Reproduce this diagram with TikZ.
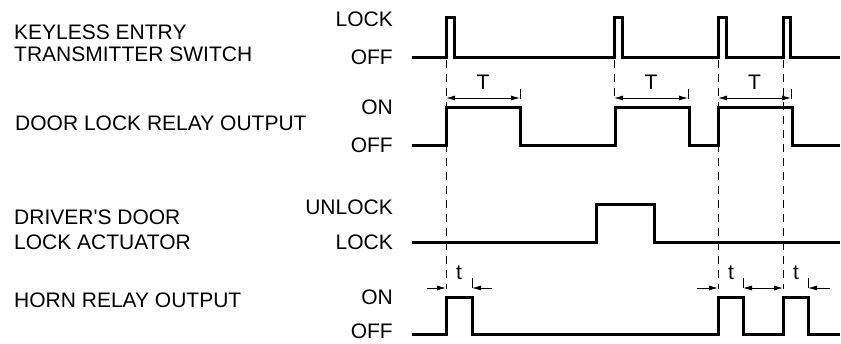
\documentclass[tikz,border=0pt]{standalone}
\usepackage{fontspec}
\setmainfont{Liberation Sans}
\usetikzlibrary{arrows.meta}
\tikzset{
  wave/.style={line width=3pt},
  guide/.style={line width=0.9pt,dash pattern=on 8pt off 6pt},
  span/.style={line width=0.9pt,{Latex[length=9pt,width=5pt]}-{Latex[length=9pt,width=5pt]}},
  halfspan/.style={line width=0.9pt,-{Latex[length=9pt,width=5pt]}},
  txt/.style={font=\fontsize{21}{22}\selectfont,inner sep=0pt},
  lbl/.style={txt,align=left,anchor=west},
  lvl/.style={txt,anchor=east}
}
\begin{document}
\begin{tikzpicture}[x=1pt,y=-1pt]
	    \useasboundingbox (0,0) rectangle (841,343);
	    % signal names
	    \node[lbl] (keyless) at (14,43) {KEYLESS ENTRY\\TRANSMITTER SWITCH};
	    \node[lbl] (relay) at (15,123) {DOOR LOCK RELAY OUTPUT};
	    \node[lbl] (actuator) at (14,230) {DRIVER\textquotesingle S DOOR\\[3pt]LOCK ACTUATOR};
	    \node[lbl] (horn) at (14,300) {HORN RELAY OUTPUT};
	    % levels
	    \node[lvl] (klock) at (393,19) {LOCK};
	    \node[lvl] (koff) at (393,57) {OFF};
	    \node[lvl] (ron) at (393,107) {ON};
	    \node[lvl] (roff) at (393,145) {OFF};
	    \node[lvl] (aunlock) at (393,207) {UNLOCK};
	    \node[lvl] (alock) at (393,242) {LOCK};
	    \node[lvl] (hon) at (393,297) {ON};
	    \node[lvl] (hoff) at (393,331) {OFF};
	    % waveforms
	    \draw[wave](412,57)--(446,57)--(446,17)--(454,17)--(454,57)--(614,57)--(614,17)--(622,17)--(622,57)
	        --(718,57)--(718,17)--(726,17)--(726,57)--(783,57)--(783,17)--(790,17)--(790,57)--(840,57);
	    \draw[wave](412,145)--(446,145)--(446,107)--(520,107)--(520,145)--(615,145)--(615,107)--(689,107)--(689,145)
	        --(718,145)--(718,107)--(792,107)--(792,145)--(840,145);
	    \draw[wave](412,242)--(596,242)--(596,204)--(654,204)--(654,242)--(840,242);
	    \draw[wave](412,334)--(446,334)--(446,297)--(472,297)--(472,334)--(718,334)--(718,297)--(743,297)--(743,334)
	        --(783,334)--(783,297)--(808,297)--(808,334)--(840,334);
	    % guides
	    \draw[guide](446,60)--(446,289);
	    \draw[guide](614,60)--(614,100);
	    \draw[guide](718,60)--(718,289);
	    \draw[guide](783,60)--(783,289);
	    \draw[line width=0.9pt](520,89)--(520,99);
	    \draw[line width=0.9pt](688,89)--(688,99);
	    \draw[line width=0.9pt](791,89)--(791,99);
	    \draw[line width=0.9pt](472,278)--(472,288);
	    \draw[line width=0.9pt](743,278)--(743,288);
	    \draw[line width=0.9pt](808,278)--(808,288);
	    % T spans
	    \draw[span](446,98)--(520,98)node[txt,midway,above=8pt]{T};
	    \draw[span](614,98)--(688,98)node[txt,midway,above=8pt]{T};
	    \draw[span](718,98)--(791,98)node[txt,midway,above=8pt]{T};
	    % t spans
	    \draw[halfspan](427,288)--(446,288);
	    \draw[halfspan](492,288)--(472,288);
	    \node[txt] (t1) at (459,273) {t};
	    \draw[halfspan](697,288)--(718,288);
	    \draw[halfspan](763,288)--(743,288);
	    \draw[halfspan](763,288)--(783,288);
	    \node[txt] (t2) at (731,273) {t};
	    \draw[halfspan](830,288)--(808,288);
	    \node[txt] (t3) at (796,273) {t};
	\end{tikzpicture}
\end{document}
